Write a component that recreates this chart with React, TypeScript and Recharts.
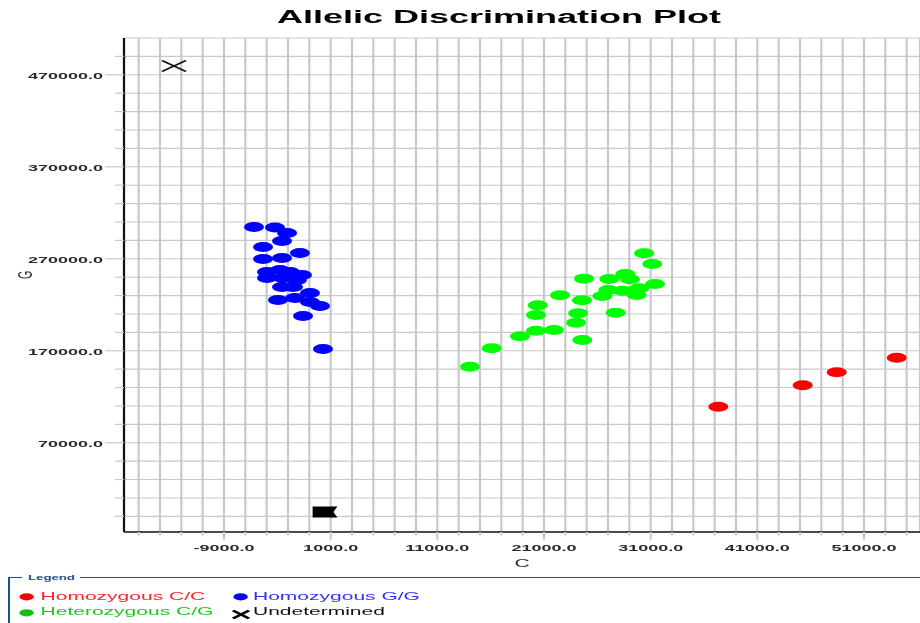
import React from 'react';
import { ScatterChart, Scatter, XAxis, YAxis, CartesianGrid } from 'recharts';

// ---------- data (C = x, G = y) ----------
const homozygousCC = [
  { c: 37340, g: 109200 },
  { c: 45250, g: 132500 },
  { c: 48440, g: 146600 },
  { c: 54070, g: 162500 },
];

const homozygousGG = [
  { c: -6190, g: 304600 },
  { c: -4220, g: 304000 },
  { c: -3090, g: 298000 },
  { c: -3560, g: 289300 },
  { c: -5340, g: 282800 },
  { c: -1880, g: 276300 },
  { c: -5340, g: 269800 },
  { c: -3560, g: 270900 },
  { c: -4970, g: 255600 },
  { c: -3750, g: 257800 },
  { c: -2810, g: 255600 },
  { c: -1690, g: 252400 },
  { c: -4970, g: 249100 },
  { c: -3470, g: 249100 },
  { c: -2160, g: 246900 },
  { c: -3560, g: 239300 },
  { c: -2530, g: 239300 },
  { c: -3940, g: 225200 },
  { c: -2340, g: 227400 },
  { c: -940, g: 232800 },
  { c: -940, g: 223000 },
  { c: 0, g: 218700 },
  { c: -1590, g: 207800 },
  { c: 280, g: 171900 },
];

const heterozygousCG = [
  { c: 30380, g: 276000 },
  { c: 31150, g: 264300 },
  { c: 24750, g: 248400 },
  { c: 27120, g: 248000 },
  { c: 28620, g: 253500 },
  { c: 29060, g: 247700 },
  { c: 31410, g: 242600 },
  { c: 29930, g: 237900 },
  { c: 27030, g: 236100 },
  { c: 28380, g: 235300 },
  { c: 29690, g: 230600 },
  { c: 26470, g: 229600 },
  { c: 22500, g: 230300 },
  { c: 24560, g: 224900 },
  { c: 20410, g: 219400 },
  { c: 20250, g: 208900 },
  { c: 24190, g: 210800 },
  { c: 27720, g: 211400 },
  { c: 24000, g: 200500 },
  { c: 20250, g: 191800 },
  { c: 21940, g: 192600 },
  { c: 18750, g: 185800 },
  { c: 24590, g: 181700 },
  { c: 16100, g: 172700 },
  { c: 14060, g: 152700 },
];

const undetermined = [{ c: -13690, g: 479600 }];
const noTemplate = [{ c: 470, g: -5200 }];

const xGridTicks = [
  -17000, -15000, -13000, -11000, -9000, -7000, -5000, -3000, -1000, 1000, 3000, 5000,
  7000, 9000, 11000, 13000, 15000, 17000, 19000, 21000, 23000, 25000, 27000, 29000,
  31000, 33000, 35000, 37000, 39000, 41000, 43000, 45000, 47000, 49000, 51000, 53000, 55000,
];
const yGridTicks = [
  -10000, 10000, 30000, 50000, 70000, 90000, 110000, 130000, 150000, 170000, 190000,
  210000, 230000, 250000, 270000, 290000, 310000, 330000, 350000, 370000, 390000,
  410000, 430000, 450000, 470000, 490000,
];
const xLabelTicks = [-9000, 1000, 11000, 21000, 31000, 41000, 51000];
const yLabelTicks = [70000, 170000, 270000, 370000, 470000];
const xDomain = [-18375, 56250];
const yDomain = [-27000, 510000];

const legendItems = [
  { name: 'Homozygous C/C', color: '#ff2424', dot: '#ff0000', kind: 'dot' },
  { name: 'Homozygous G/G', color: '#3030ff', dot: '#0000ff', kind: 'dot' },
  { name: 'Heterozygous C/G', color: '#22c422', dot: '#14c014', kind: 'dot' },
  { name: 'Undetermined', color: '#111111', dot: '#000000', kind: 'x' },
];

const FONT = '"Liberation Sans", Arial, Helvetica, sans-serif';
const GRID = '#c9c9c9';

// ---------- marks ----------
const makeDot = (fill: string) => (props: any) => (
  <circle cx={props.cx} cy={props.cy} r={5} fill={fill} />
);

const XMark = (props: any) => {
  const { cx, cy } = props;
  return (
    <g stroke="#151515" strokeWidth={1.4}>
      <line x1={cx - 6} y1={cy - 5.5} x2={cx + 6} y2={cy + 5.5} />
      <line x1={cx - 6} y1={cy + 5.5} x2={cx + 6} y2={cy - 5.5} />
    </g>
  );
};

const NtcMark = (props: any) => {
  const { cx, cy } = props;
  const pts = [
    [cx - 6.2, cy - 5.5],
    [cx + 6.2, cy - 5.5],
    [cx + 4.2, cy],
    [cx + 6.2, cy + 5.5],
    [cx - 6.2, cy + 5.5],
  ]
    .map((p) => p.join(','))
    .join(' ');
  return <polygon points={pts} fill="#000" />;
};

// ---------- ticks ----------
const XTick = (props: any) => {
  const { x, y, payload } = props;
  const major = xLabelTicks.includes(payload.value);
  return (
    <g>
      <line x1={x} x2={x} y1={y} y2={y + (major ? 8 : 3.5)} stroke={GRID} strokeWidth={1} />
      {major && (
        <text
          x={x}
          y={y + 18.7}
          textAnchor="middle"
          fontFamily={FONT}
          fontWeight="bold"
          fontSize={9}
          fill="#2a2a2a"
        >
          {payload.value.toFixed(1)}
        </text>
      )}
    </g>
  );
};

const YTick = (props: any) => {
  const { x, y, payload } = props;
  const major = yLabelTicks.includes(payload.value);
  return (
    <g>
      <line x1={x - (major ? 9.5 : 4.5)} x2={x} y1={y} y2={y} stroke={GRID} strokeWidth={1.2} />
      {major && (
        <text
          x={x - 10.5}
          y={y + 4}
          textAnchor="end"
          fontFamily={FONT}
          fontWeight="bold"
          fontSize={9}
          fill="#2a2a2a"
        >
          {payload.value.toFixed(1)}
        </text>
      )}
    </g>
  );
};

export default function App() {
  return (
    <div
      style={{
        position: 'absolute',
        left: 0,
        top: 0,
        width: 920,
        height: 623,
        overflow: 'hidden',
        background: '#fff',
      }}
    >
      <div
        style={{
          position: 'relative',
          width: 462,
          height: 623,
          transform: 'scaleX(2)',
          transformOrigin: '0 0',
          fontFamily: FONT,
        }}
      >
        {/* title */}
        <div
          style={{
            position: 'absolute',
            left: 0,
            top: 8,
            width: 499,
            textAlign: 'center',
            fontSize: 18,
            lineHeight: '18px',
            fontWeight: 'bold',
            color: '#000',
            whiteSpace: 'nowrap',
          }}
        >
          Allelic Discrimination Plot
        </div>

        <ScatterChart width={462} height={623} margin={{ top: 38, right: 2, bottom: 51, left: 0 }}>
          <CartesianGrid stroke={GRID} strokeWidth={1.1} />
          <XAxis
            type="number"
            dataKey="c"
            domain={xDomain}
            ticks={xGridTicks}
            interval={0}
            tick={(p: any) => <XTick {...p} />}
            tickLine={false}
            tickSize={0}
            tickMargin={0}
            height={40}
            axisLine={{ stroke: '#1a1a1a', strokeWidth: 1.6 }}
            allowDataOverflow
          />
          <XAxis
            xAxisId="top"
            orientation="top"
            type="number"
            domain={xDomain}
            height={0}
            tick={false}
            tickLine={false}
            axisLine={{ stroke: '#6a6a6a', strokeWidth: 1.3 }}
          />
          <YAxis
            type="number"
            dataKey="g"
            domain={yDomain}
            ticks={yGridTicks}
            interval={0}
            tick={(p: any) => <YTick {...p} />}
            tickLine={false}
            tickSize={0}
            tickMargin={0}
            width={62}
            axisLine={{ stroke: '#111', strokeWidth: 1.1 }}
            allowDataOverflow
          />
          <Scatter name="Homozygous G/G" data={homozygousGG} shape={makeDot('#0000ff')} isAnimationActive={false} />
          <Scatter name="Heterozygous C/G" data={heterozygousCG} shape={makeDot('#00ff00')} isAnimationActive={false} />
          <Scatter name="Homozygous C/C" data={homozygousCC} shape={makeDot('#ff0000')} isAnimationActive={false} />
          <Scatter name="Undetermined" data={undetermined} shape={XMark} isAnimationActive={false} />
          <Scatter name="NTC" data={noTemplate} shape={NtcMark} isAnimationActive={false} />
        </ScatterChart>

        {/* axis titles */}
        <div
          style={{
            position: 'absolute',
            left: 251,
            top: 557,
            width: 20,
            textAlign: 'center',
            fontSize: 10.5,
            lineHeight: '12px',
            color: '#333',
          }}
        >
          C
        </div>
        <div
          style={{
            position: 'absolute',
            left: 2,
            top: 269,
            width: 20,
            height: 12,
            textAlign: 'center',
            fontSize: 10.5,
            lineHeight: '12px',
            color: '#333',
            transform: 'rotate(-90deg)',
          }}
        >
          G
        </div>

        {/* legend frame */}
        <div
          style={{
            position: 'absolute',
            left: 3.5,
            top: 577,
            width: 470,
            height: 60,
            borderTop: '1px solid #1f4f8f',
            borderLeft: '1px solid #1f4f8f',
          }}
        />
        <div
          style={{
            position: 'absolute',
            left: 11,
            top: 573,
            padding: '0 3px',
            background: '#fff',
            fontSize: 6.6,
            lineHeight: '9px',
            fontWeight: 'bold',
            color: '#1f4f8f',
          }}
        >
          Legend
        </div>
        {legendItems.map((it, i) => {
          const col = i % 2;
          const row = Math.floor(i / 2);
          const left = col === 0 ? 20.3 : 126.5;
          const top = row === 0 ? 589.5 : 605.2;
          const markLeft = col === 0 ? 8.5 : 116.3;
          return (
            <React.Fragment key={it.name}>
              <svg
                style={{ position: 'absolute', left: markLeft, top: top + 1.5, overflow: 'visible' }}
                width={9}
                height={10}
              >
                {it.kind === 'dot' ? (
                  <circle cx={4.3} cy={5.8} r={3.6} fill={it.dot} />
                ) : (
                  <g stroke="#000" strokeWidth={1.9}>
                    <line x1={0.5} y1={3.5} x2={8.5} y2={11.5} />
                    <line x1={0.5} y1={11.5} x2={8.5} y2={3.5} />
                  </g>
                )}
              </svg>
              <div
                style={{
                  position: 'absolute',
                  left,
                  top,
                  fontSize: 10.5,
                  lineHeight: '12px',
                  color: it.color,
                  whiteSpace: 'nowrap',
                }}
              >
                {it.name}
              </div>
            </React.Fragment>
          );
        })}
      </div>
    </div>
  );
}
